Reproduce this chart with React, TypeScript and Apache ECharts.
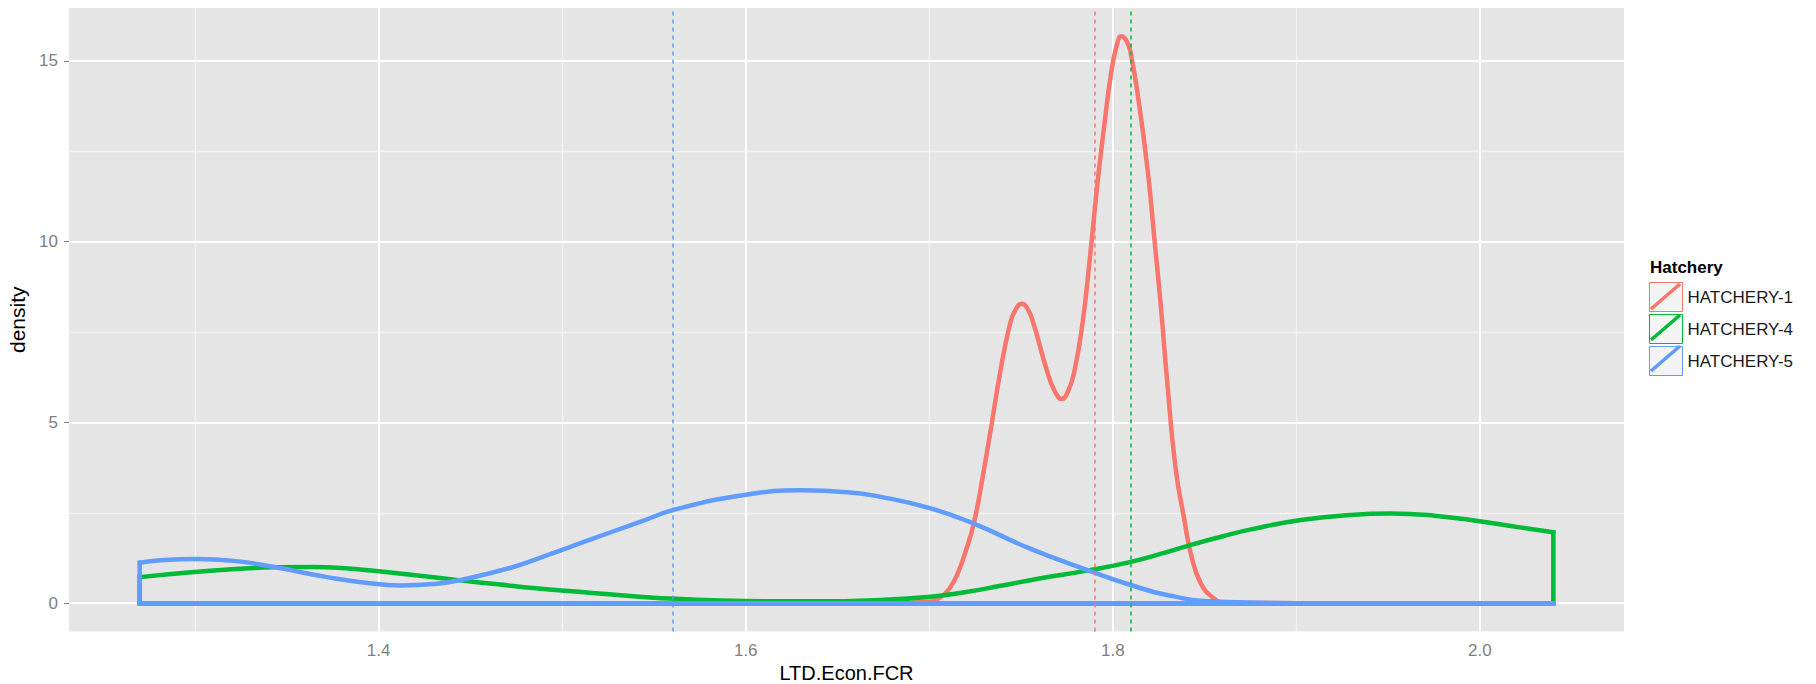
import React, { useEffect, useRef } from "react";
import * as echarts from "echarts";

// ---------- data ----------
const groups = ["HATCHERY-1", "HATCHERY-4", "HATCHERY-5"];
const colors = ["#F8766D", "#00BA38", "#619CFF"];
const legendTitle = "Hatchery";
const xTitle = "LTD.Econ.FCR";
const yTitle = "density";

const xTicks = [1.4, 1.6, 1.8, 2.0];
const xMinorGrid = [1.3, 1.5, 1.7, 1.9];
const yTicks = [0, 5, 10, 15];
const yMinorGrid = [2.5, 7.5, 12.5];

// HATCHERY-1 density
const h1X = [1.2698, 1.4, 1.55, 1.68, 1.7, 1.7065, 1.7112, 1.7153, 1.7194, 1.7243, 1.7294, 1.734, 1.7385, 1.744, 1.747, 1.7504, 1.7535, 1.7567, 1.764, 1.7685, 1.7722, 1.7755, 1.779, 1.7835, 1.7876, 1.7916, 1.7953, 1.7989, 1.802, 1.8047, 1.8075, 1.8098, 1.8143, 1.819, 1.8226, 1.8262, 1.8295, 1.8343, 1.839, 1.8425, 1.848, 1.8553, 1.86, 1.9, 2.04];
const h1Y = [0, 0, 0, 0, 0.04, 0.18, 0.42, 0.8, 1.37, 2.22, 3.58, 4.96, 6.35, 7.73, 8.12, 8.28, 8.15, 7.75, 6.45, 5.85, 5.65, 5.85, 6.4, 7.75, 9.6, 11.6, 13.2, 14.6, 15.4, 15.68, 15.55, 15.2, 13.81, 11.97, 10.1, 8.2, 6.2, 3.7, 2.3, 1.37, 0.54, 0.12, 0.02, 0, 0];

// HATCHERY-4 density
const h4X = [1.2698, 1.2994, 1.32, 1.343, 1.3647, 1.38, 1.4, 1.42, 1.4447, 1.465, 1.4856, 1.5148, 1.542, 1.5622, 1.6, 1.637, 1.6736, 1.7008, 1.72, 1.739, 1.76, 1.786, 1.808, 1.825, 1.8418, 1.86, 1.8753, 1.9025, 1.9297, 1.9515, 1.9751, 2.0007, 2.02, 2.04];
const h4Y = [0.72, 0.86, 0.94, 0.99, 1.0, 0.97, 0.88, 0.77, 0.63, 0.52, 0.41, 0.29, 0.18, 0.12, 0.06, 0.05, 0.09, 0.18, 0.31, 0.48, 0.68, 0.9, 1.12, 1.35, 1.6, 1.85, 2.04, 2.3, 2.44, 2.48, 2.42, 2.26, 2.11, 1.96];

// HATCHERY-5 density
const h5X = [1.2698, 1.2812, 1.3012, 1.3211, 1.343, 1.372, 1.395, 1.412, 1.43, 1.4447, 1.472, 1.492, 1.5148, 1.542, 1.5622, 1.6, 1.63, 1.6555, 1.6736, 1.7008, 1.7243, 1.7553, 1.787, 1.808, 1.83, 1.857, 1.9, 2.04];
const h5Y = [1.12, 1.19, 1.22, 1.17, 1.0, 0.72, 0.55, 0.49, 0.53, 0.64, 0.98, 1.33, 1.75, 2.24, 2.6, 3.0, 3.12, 3.07, 2.94, 2.62, 2.2, 1.5, 0.9, 0.53, 0.22, 0.04, 0, 0];

// group means (dashed lines)
const groupMeans = [1.787, 1.808, 1.5622];

const groupX = [h1X, h4X, h5X];
const groupY = [h1Y, h4Y, h5Y];

const FONT = "Liberation Sans, Arial, sans-serif";

export default function App() {
  const ref = useRef<HTMLDivElement>(null);

  useEffect(() => {
    document.body.style.margin = "0";
    if (!ref.current) return;
    const chart = echarts.init(ref.current, undefined, { renderer: "svg" });

    const allX = groupX.flat();
    const allY = groupY.flat();
    const xLo = Math.min(...allX);
    const xHi = Math.max(...allX);
    const xPad = (xHi - xLo) * 0.05;
    const yHi = Math.max(...allY);
    const yPad = yHi * 0.05;

    const curveSeries: any[] = [];
    groups.forEach((name, i) => {
      const xs = groupX[i];
      const ys = groupY[i];
      const n = xs.length;
      curveSeries.push({
        type: "line",
        name,
        data: xs.map((x, j) => [x, ys[j]]),
        smooth: 0.5,
        symbol: "none",
        showSymbol: false,
        silent: true,
        z: 3,
        lineStyle: { color: colors[i], width: 4.5, cap: "round", join: "round" },
        itemStyle: { color: colors[i] },
        emphasis: { disabled: true },
      });
      curveSeries.push({
        type: "line",
        name,
        data: [
          [xs[0], ys[0]],
          [xs[0], 0],
          [xs[n - 1], 0],
          [xs[n - 1], ys[n - 1]],
        ],
        smooth: false,
        symbol: "none",
        showSymbol: false,
        silent: true,
        z: 3,
        lineStyle: { color: colors[i], width: 4.5, cap: "square", join: "miter" },
        itemStyle: { color: colors[i] },
        emphasis: { disabled: true },
      });
    });

    const gridSeries = (vals: { x: number[]; y: number[] }, color: string, width: number) => ({
      type: "line",
      data: [],
      silent: true,
      z: 1,
      markLine: {
        z: 1,
        silent: true,
        symbol: ["none", "none"],
        label: { show: false },
        emphasis: { disabled: true },
        lineStyle: { color, width, type: "solid" },
        data: [...vals.x.map((v) => ({ xAxis: v })), ...vals.y.map((v) => ({ yAxis: v }))],
      },
    });

    const keyTop = 282;
    const keyH = 29;
    const keyGap = 2;
    const keyLeft = 1649;
    const keyW = 33;

    const option: any = {
      animation: false,
      backgroundColor: "#FFFFFF",
      grid: {
        left: 69,
        right: 192,
        top: 8,
        bottom: 52.5,
        show: true,
        backgroundColor: "#E5E5E5",
        borderWidth: 0,
        containLabel: false,
        outerBoundsMode: "none",
      },
      xAxis: {
        type: "value",
        min: xLo - xPad,
        max: xHi + xPad,
        name: xTitle,
        nameLocation: "middle",
        nameGap: 19,
        nameTextStyle: { fontSize: 20, color: "#000000", fontFamily: FONT },
        axisLine: { show: false },
        splitLine: { show: false },
        axisTick: {
          show: true,
          length: 5,
          customValues: xTicks,
          lineStyle: { color: "#7F7F7F", width: 1 },
        },
        axisLabel: {
          customValues: xTicks,
          margin: 10,
          fontSize: 17,
          color: "#7F7F7F",
          fontFamily: FONT,
          formatter: (v: number) => v.toFixed(1),
        },
      },
      yAxis: {
        type: "value",
        min: -yPad,
        max: yHi + yPad,
        name: yTitle,
        nameLocation: "middle",
        nameGap: 40,
        nameRotate: 90,
        nameTextStyle: { fontSize: 21, color: "#000000", fontFamily: FONT },
        axisLine: { show: false },
        splitLine: { show: false },
        axisTick: {
          show: true,
          length: 5,
          customValues: yTicks,
          lineStyle: { color: "#7F7F7F", width: 1 },
        },
        axisLabel: {
          customValues: yTicks,
          margin: 11,
          fontSize: 17,
          color: "#7F7F7F",
          fontFamily: FONT,
          formatter: (v: number) => String(Math.round(v)),
        },
      },
      legend: {
        orient: "vertical",
        left: keyLeft,
        top: keyTop,
        padding: 0,
        itemGap: keyGap,
        itemWidth: keyW,
        itemHeight: keyH,
        selectedMode: false,
        textStyle: { fontSize: 17, color: "#1A1A1A", fontFamily: FONT },
        data: groups.map((g, i) => ({
          name: g,
          icon: "rect",
          itemStyle: { color: "#F4F4F4", borderColor: colors[i], borderWidth: 1 },
        })),
      },
      graphic: [
        {
          type: "text",
          left: 1650,
          top: 259,
          silent: true,
          style: {
            text: legendTitle,
            fontSize: 17,
            fontWeight: "bold",
            fill: "#000000",
            fontFamily: FONT,
          },
        },
        ...groups.map((g, i) => {
          const t = keyTop + i * (keyH + keyGap);
          return {
            type: "line",
            silent: true,
            z: 100,
            shape: { x1: keyLeft + 2, y1: t + keyH - 2, x2: keyLeft + keyW - 2, y2: t + 2 },
            style: { stroke: colors[i], lineWidth: 3.5 },
          };
        }),
      ],
      series: [
        gridSeries({ x: xMinorGrid, y: yMinorGrid }, "#F2F2F2", 1.3),
        gridSeries({ x: xTicks, y: yTicks }, "#FFFFFF", 2),
        ...curveSeries,
        {
          type: "line",
          data: [],
          silent: true,
          z: 4,
          markLine: {
            z: 6,
            silent: true,
            symbol: ["none", "none"],
            label: { show: false },
            emphasis: { disabled: true },
            data: groupMeans.map((m, i) => ({
              xAxis: m,
              lineStyle: { color: colors[i], width: 1.5, type: [4, 4] },
            })),
          },
        },
      ],
    };

    chart.setOption(option);
    return () => chart.dispose();
  }, []);

  return <div ref={ref} style={{ width: 1816, height: 684 }} />;
}
